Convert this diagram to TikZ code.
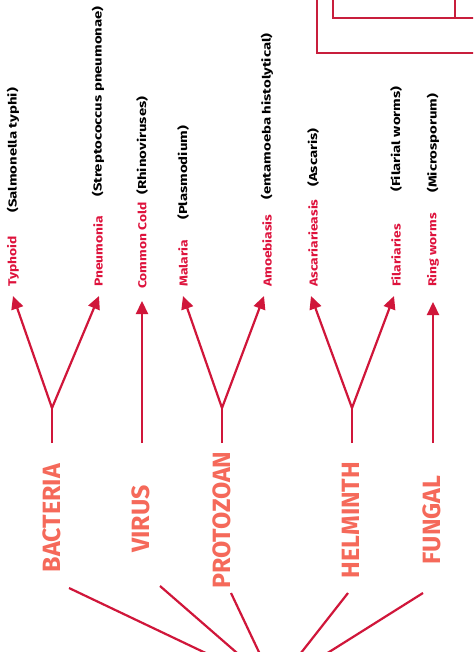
\documentclass[tikz,border=0pt]{standalone}
\usepackage{fontspec}
\setmainfont{Fira Sans}
\newfontfamily\disfont{Fira Sans}[FakeStretch=1.2]
\newfontfamily\germfont{Fira Sans}[FakeStretch=1.3]
\usetikzlibrary{arrows.meta}
\definecolor{catcol}{RGB}{245,105,90}
\definecolor{linecol}{RGB}{208,22,58}
\definecolor{discol}{RGB}{222,18,60}
\definecolor{boxcol}{RGB}{200,30,60}
\tikzset{
  cat/.style={rotate=90, text=catcol, font=\fontsize{25}{25}\selectfont\bfseries, inner sep=0pt},
  dis/.style={rotate=90, anchor=west, text=discol, font=\disfont\fontsize{11.5}{12}\selectfont\bfseries, inner sep=0pt},
  germ/.style={rotate=90, anchor=west, text=black, font=\germfont\fontsize{11.5}{12}\selectfont\bfseries, inner sep=0pt},
  link/.style={draw=linecol, line width=2.2pt},
  arr/.style={link, -{Triangle[length=13pt,width=12pt]}},
  frame/.style={draw=boxcol, line width=2pt}
}
\begin{document}
\begin{tikzpicture}[x=1pt,y=-1pt]
\useasboundingbox (0,0) rectangle (473,652);
\clip (0,0) rectangle (473,652);
\fill[white] (0,0) rectangle (473,652);

% top right frames
\draw[frame] (317,-20) -- (317,53) -- (490,53);
\draw[frame] (333,-20) -- (333,18) -- (455,18) -- (455,-20);
\draw[frame] (455,18) -- (490,18);

% categories
\node[cat] (bacteria)  at (52,518)  {BACTERIA};
\node[cat] (virus)     at (141,519) {VIRUS};
\node[cat] (protozoan) at (222,520) {PROTOZOAN};
\node[cat] (helminth)  at (351,520) {HELMINTH};
\node[cat] (fungal)    at (432,520) {FUNGAL};

% diseases
\node[dis]  (typhoid)  at (13,287)  {Typhoid};
\node[germ] (salm)     at (13,213)  {(Salmonella typhi)};
\node[dis]  (pneum)    at (98,287)  {Pneumonia};
\node[germ] (strep)    at (98,197)  {(Streptococcus pneumonae)};
\node[dis]  (cold)     at (142,289) {Common Cold};
\node[germ] (rhino)    at (142,195) {(Rhinoviruses)};
\node[dis]  (malaria)  at (183,287) {Malaria};
\node[germ] (plasm)    at (183,220) {(Plasmodium)};
\node[dis]  (amoeb)    at (267,287) {Amoebiasis};
\node[germ] (ent)      at (267,200) {(entamoeba histolytical)};
\node[dis]  (ascar)    at (313,287) {Ascariarieasis};
\node[germ] (ascaris)  at (313,187) {(Ascaris)};
\node[dis]  (filar)    at (396,287) {Filariaries};
\node[germ] (filw)     at (396,192) {(Filarial worms)};
\node[dis]  (ring)     at (433,287) {Ring worms};
\node[germ] (micro)    at (433,193) {(Microsporum)};

% stems and branch points
\coordinate (bB) at (52,443);  \coordinate (bJ) at (52,408);
\coordinate (vB) at (142,443);
\coordinate (pB) at (222,443); \coordinate (pJ) at (222,408);
\coordinate (hB) at (352,443); \coordinate (hJ) at (352,408);
\coordinate (fB) at (433,443);

% arrow tips
\coordinate (tTy) at (13,296);  \coordinate (tPn) at (99,296);
\coordinate (tCo) at (142,301);
\coordinate (tMa) at (183,296); \coordinate (tAm) at (264,296);
\coordinate (tAs) at (311,296); \coordinate (tFi) at (394,296);
\coordinate (tRi) at (433,302);

\draw[link] (bB) -- (bJ);
\draw[arr] (bJ) -- (tTy);
\draw[arr] (bJ) -- (tPn);
\draw[arr] (vB) -- (tCo);
\draw[link] (pB) -- (pJ);
\draw[arr] (pJ) -- (tMa);
\draw[arr] (pJ) -- (tAm);
\draw[link] (hB) -- (hJ);
\draw[arr] (hJ) -- (tAs);
\draw[arr] (hJ) -- (tFi);
\draw[arr] (fB) -- (tRi);

% lower links to hub
\coordinate (hub) at (275,686);
\coordinate (bL) at (69,588);
\coordinate (vL) at (160,586);
\coordinate (pL) at (231,593);
\coordinate (hL) at (348,593);
\coordinate (fL) at (423,593);
\draw[link] (bL) -- (hub);
\draw[link] (vL) -- (hub);
\draw[link] (pL) -- (hub);
\draw[link] (hL) -- (hub);
\draw[link] (fL) -- (hub);
\end{tikzpicture}
\end{document}
